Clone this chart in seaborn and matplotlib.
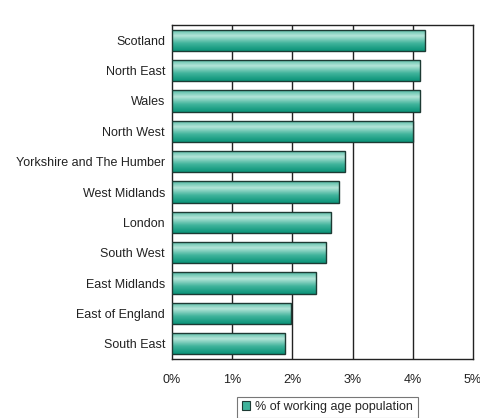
import numpy as np
import pandas as pd
import matplotlib
matplotlib.use("Agg")
import matplotlib.pyplot as plt
import seaborn as sns
from matplotlib.colors import LinearSegmentedColormap
from matplotlib.patches import Patch

regions = ["Scotland", "North East", "Wales", "North West", "Yorkshire and The Humber",
           "West Midlands", "London", "South West", "East Midlands", "East of England", "South East"]
values = [4.20, 4.12, 4.12, 4.00, 2.88, 2.77, 2.64, 2.55, 2.39, 1.97, 1.88]
xticks = [0, 1, 2, 3, 4, 5]
xticklabels = ["0%", "1%", "2%", "3%", "4%", "5%"]
series_label = "% of working age population"

df = pd.DataFrame({"region": regions, "value": values})

sns.set_theme(style="white")
plt.rcParams["font.family"] = ["Liberation Sans", "DejaVu Sans"]

fig = plt.figure(figsize=(4.81, 4.18), dpi=100)
ax = fig.add_axes([0.3576, 0.1411, 0.6258, 0.7989])

sns.barplot(data=df, x="value", y="region", orient="h", color="#1e9e86",
            width=0.7, edgecolor="#1d3a33", linewidth=1.0, ax=ax, zorder=3)

# gradient fill for each bar (visual top -> bottom)
cmap = LinearSegmentedColormap.from_list(
    "teal", [(0.0, "#4fb9a2"), (0.3, "#b4e5d8"), (0.65, "#3fb39b"), (1.0, "#0a9378")])
grad = np.linspace(0, 1, 64).reshape(-1, 1)
for p in ax.patches:
    x0, y0 = p.get_x(), p.get_y()
    w, h = p.get_width(), p.get_height()
    im = ax.imshow(grad, cmap=cmap, aspect="auto", extent=(x0, x0 + w, y0 + h, y0),
                   origin="upper", zorder=3.5, interpolation="bilinear")
    im.set_clip_path(p)
    p.set_facecolor("none")
    p.set_zorder(4)

ax.set_xlim(0, 5)
ax.set_ylim(len(regions) - 0.5, -0.5)
ax.set_xticks(xticks)
ax.set_xticklabels(xticklabels, fontsize=9, color="#222222")
ax.set_yticks(range(len(regions)))
ax.set_yticklabels(regions, fontsize=9, color="#222222")
ax.set_yticks(np.arange(-0.5, len(regions), 1.0), minor=True)
ax.tick_params(axis="y", which="major", length=0, pad=5)
ax.tick_params(axis="y", which="minor", length=4, width=1, color="#222222", direction="out")
ax.tick_params(axis="x", which="major", length=4, width=1, color="#222222", direction="out", pad=7)
ax.set_xlabel("")
ax.set_ylabel("")

ax.grid(False)
for xv in xticks[1:-1]:
    ax.axvline(xv, color="#222222", linewidth=1.0, zorder=1)

for side in ["left", "bottom", "top", "right"]:
    ax.spines[side].set_visible(True)
    ax.spines[side].set_color("#222222")
    ax.spines[side].set_linewidth(1.0)

handle = Patch(facecolor="#3fb39b", edgecolor="#1d3a33", linewidth=0.8)
leg = fig.legend([handle], [series_label], loc="center", bbox_to_anchor=(0.681, 0.026),
                 fontsize=9, frameon=True, fancybox=False, handlelength=0.7, handleheight=0.7,
                 handletextpad=0.4, borderpad=0.35)
leg.get_frame().set_edgecolor("#555555")
leg.get_frame().set_linewidth(0.8)

fig.savefig("out.png", dpi=100)
